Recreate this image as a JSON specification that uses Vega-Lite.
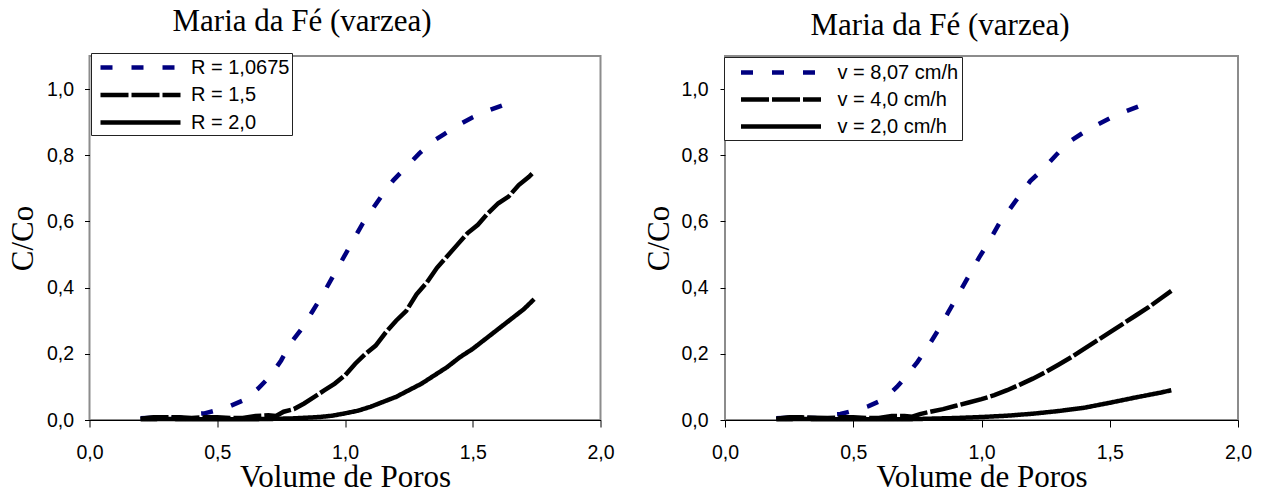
{
  "$schema": "https://vega.github.io/schema/vega-lite/v6.json",
  "padding": {"left": 5.5, "top": 5, "right": 5, "bottom": 0},
  "bounds": "flush",
  "spacing": 124.5,
  "config": {
    "view": {"stroke": "#8c8c8c", "strokeWidth": 2},
    "font": "Liberation Sans",
    "axis": {
      "grid": false,
      "labelFont": "Liberation Sans",
      "labelFontSize": 19.5,
      "labelColor": "#000",
      "labelFlush": false,
      "labelOverlap": false,
      "titleFont": "Liberation Serif",
      "titleFontSize": 31,
      "titleFontWeight": "normal",
      "titleColor": "#000",
      "tickColor": "#000",
      "tickWidth": 1
    }
  },
  "datasets": {
    "left": [
      {"s": "R = 1,0675", "v": 0.20, "c": 0.005}, {"s": "R = 1,0675", "v": 0.25, "c": 0.007}, {"s": "R = 1,0675", "v": 0.30, "c": 0.006}, {"s": "R = 1,0675", "v": 0.35, "c": 0.008}, {"s": "R = 1,0675", "v": 0.38, "c": 0.004}, {"s": "R = 1,0675", "v": 0.41, "c": 0.018}, {"s": "R = 1,0675", "v": 0.45, "c": 0.02}, {"s": "R = 1,0675", "v": 0.50, "c": 0.03}, {"s": "R = 1,0675", "v": 0.55, "c": 0.042}, {"s": "R = 1,0675", "v": 0.61, "c": 0.062}, {"s": "R = 1,0675", "v": 0.66, "c": 0.095}, {"s": "R = 1,0675", "v": 0.71, "c": 0.135}, {"s": "R = 1,0675", "v": 0.75, "c": 0.18}, {"s": "R = 1,0675", "v": 0.79, "c": 0.235}, {"s": "R = 1,0675", "v": 0.83, "c": 0.275}, {"s": "R = 1,0675", "v": 0.87, "c": 0.325}, {"s": "R = 1,0675", "v": 0.91, "c": 0.375}, {"s": "R = 1,0675", "v": 0.95, "c": 0.43}, {"s": "R = 1,0675", "v": 0.99, "c": 0.485}, {"s": "R = 1,0675", "v": 1.03, "c": 0.54}, {"s": "R = 1,0675", "v": 1.07, "c": 0.595}, {"s": "R = 1,0675", "v": 1.11, "c": 0.64}, {"s": "R = 1,0675", "v": 1.15, "c": 0.685}, {"s": "R = 1,0675", "v": 1.19, "c": 0.725}, {"s": "R = 1,0675", "v": 1.24, "c": 0.765}, {"s": "R = 1,0675", "v": 1.29, "c": 0.805}, {"s": "R = 1,0675", "v": 1.34, "c": 0.84}, {"s": "R = 1,0675", "v": 1.39, "c": 0.865}, {"s": "R = 1,0675", "v": 1.44, "c": 0.89}, {"s": "R = 1,0675", "v": 1.50, "c": 0.915}, {"s": "R = 1,0675", "v": 1.56, "c": 0.935}, {"s": "R = 1,0675", "v": 1.62, "c": 0.952}, {"s": "R = 1,0675", "v": 1.67, "c": 0.968},
      {"s": "R = 1,5", "v": 0.20, "c": 0.004}, {"s": "R = 1,5", "v": 0.25, "c": 0.008}, {"s": "R = 1,5", "v": 0.30, "c": 0.008}, {"s": "R = 1,5", "v": 0.35, "c": 0.008}, {"s": "R = 1,5", "v": 0.40, "c": 0.006}, {"s": "R = 1,5", "v": 0.45, "c": 0.008}, {"s": "R = 1,5", "v": 0.50, "c": 0.008}, {"s": "R = 1,5", "v": 0.55, "c": 0.006}, {"s": "R = 1,5", "v": 0.60, "c": 0.006}, {"s": "R = 1,5", "v": 0.65, "c": 0.012}, {"s": "R = 1,5", "v": 0.70, "c": 0.014}, {"s": "R = 1,5", "v": 0.73, "c": 0.012}, {"s": "R = 1,5", "v": 0.76, "c": 0.025}, {"s": "R = 1,5", "v": 0.80, "c": 0.033}, {"s": "R = 1,5", "v": 0.84, "c": 0.05}, {"s": "R = 1,5", "v": 0.88, "c": 0.07}, {"s": "R = 1,5", "v": 0.92, "c": 0.09}, {"s": "R = 1,5", "v": 0.96, "c": 0.11}, {"s": "R = 1,5", "v": 1.00, "c": 0.135}, {"s": "R = 1,5", "v": 1.04, "c": 0.17}, {"s": "R = 1,5", "v": 1.08, "c": 0.2}, {"s": "R = 1,5", "v": 1.12, "c": 0.225}, {"s": "R = 1,5", "v": 1.16, "c": 0.265}, {"s": "R = 1,5", "v": 1.20, "c": 0.3}, {"s": "R = 1,5", "v": 1.24, "c": 0.33}, {"s": "R = 1,5", "v": 1.28, "c": 0.38}, {"s": "R = 1,5", "v": 1.32, "c": 0.415}, {"s": "R = 1,5", "v": 1.36, "c": 0.46}, {"s": "R = 1,5", "v": 1.40, "c": 0.495}, {"s": "R = 1,5", "v": 1.44, "c": 0.53}, {"s": "R = 1,5", "v": 1.48, "c": 0.565}, {"s": "R = 1,5", "v": 1.52, "c": 0.59}, {"s": "R = 1,5", "v": 1.56, "c": 0.625}, {"s": "R = 1,5", "v": 1.60, "c": 0.655}, {"s": "R = 1,5", "v": 1.64, "c": 0.675}, {"s": "R = 1,5", "v": 1.68, "c": 0.71}, {"s": "R = 1,5", "v": 1.72, "c": 0.735}, {"s": "R = 1,5", "v": 1.74, "c": 0.75},
      {"s": "R = 2,0", "v": 0.20, "c": 0.002}, {"s": "R = 2,0", "v": 0.30, "c": 0.003}, {"s": "R = 2,0", "v": 0.40, "c": 0.002}, {"s": "R = 2,0", "v": 0.50, "c": 0.002}, {"s": "R = 2,0", "v": 0.60, "c": 0.002}, {"s": "R = 2,0", "v": 0.70, "c": 0.003}, {"s": "R = 2,0", "v": 0.80, "c": 0.005}, {"s": "R = 2,0", "v": 0.90, "c": 0.009}, {"s": "R = 2,0", "v": 0.95, "c": 0.013}, {"s": "R = 2,0", "v": 1.00, "c": 0.02}, {"s": "R = 2,0", "v": 1.05, "c": 0.028}, {"s": "R = 2,0", "v": 1.10, "c": 0.04}, {"s": "R = 2,0", "v": 1.15, "c": 0.055}, {"s": "R = 2,0", "v": 1.20, "c": 0.07}, {"s": "R = 2,0", "v": 1.25, "c": 0.09}, {"s": "R = 2,0", "v": 1.30, "c": 0.11}, {"s": "R = 2,0", "v": 1.35, "c": 0.135}, {"s": "R = 2,0", "v": 1.40, "c": 0.16}, {"s": "R = 2,0", "v": 1.45, "c": 0.19}, {"s": "R = 2,0", "v": 1.50, "c": 0.215}, {"s": "R = 2,0", "v": 1.55, "c": 0.245}, {"s": "R = 2,0", "v": 1.60, "c": 0.275}, {"s": "R = 2,0", "v": 1.65, "c": 0.305}, {"s": "R = 2,0", "v": 1.70, "c": 0.335}, {"s": "R = 2,0", "v": 1.74, "c": 0.365}
    ],
    "right": [
      {"s": "v = 8,07 cm/h", "v": 0.20, "c": 0.005}, {"s": "v = 8,07 cm/h", "v": 0.25, "c": 0.007}, {"s": "v = 8,07 cm/h", "v": 0.30, "c": 0.006}, {"s": "v = 8,07 cm/h", "v": 0.35, "c": 0.006}, {"s": "v = 8,07 cm/h", "v": 0.38, "c": 0.003}, {"s": "v = 8,07 cm/h", "v": 0.41, "c": 0.016}, {"s": "v = 8,07 cm/h", "v": 0.45, "c": 0.018}, {"s": "v = 8,07 cm/h", "v": 0.51, "c": 0.03}, {"s": "v = 8,07 cm/h", "v": 0.56, "c": 0.042}, {"s": "v = 8,07 cm/h", "v": 0.62, "c": 0.063}, {"s": "v = 8,07 cm/h", "v": 0.67, "c": 0.1}, {"s": "v = 8,07 cm/h", "v": 0.71, "c": 0.135}, {"s": "v = 8,07 cm/h", "v": 0.75, "c": 0.175}, {"s": "v = 8,07 cm/h", "v": 0.79, "c": 0.22}, {"s": "v = 8,07 cm/h", "v": 0.83, "c": 0.27}, {"s": "v = 8,07 cm/h", "v": 0.87, "c": 0.325}, {"s": "v = 8,07 cm/h", "v": 0.91, "c": 0.38}, {"s": "v = 8,07 cm/h", "v": 0.95, "c": 0.435}, {"s": "v = 8,07 cm/h", "v": 0.99, "c": 0.49}, {"s": "v = 8,07 cm/h", "v": 1.03, "c": 0.54}, {"s": "v = 8,07 cm/h", "v": 1.07, "c": 0.595}, {"s": "v = 8,07 cm/h", "v": 1.11, "c": 0.637}, {"s": "v = 8,07 cm/h", "v": 1.15, "c": 0.68}, {"s": "v = 8,07 cm/h", "v": 1.19, "c": 0.722}, {"s": "v = 8,07 cm/h", "v": 1.24, "c": 0.758}, {"s": "v = 8,07 cm/h", "v": 1.29, "c": 0.8}, {"s": "v = 8,07 cm/h", "v": 1.34, "c": 0.84}, {"s": "v = 8,07 cm/h", "v": 1.39, "c": 0.865}, {"s": "v = 8,07 cm/h", "v": 1.44, "c": 0.888}, {"s": "v = 8,07 cm/h", "v": 1.50, "c": 0.912}, {"s": "v = 8,07 cm/h", "v": 1.56, "c": 0.932}, {"s": "v = 8,07 cm/h", "v": 1.62, "c": 0.95}, {"s": "v = 8,07 cm/h", "v": 1.67, "c": 0.962},
      {"s": "v = 4,0 cm/h", "v": 0.20, "c": 0.004}, {"s": "v = 4,0 cm/h", "v": 0.25, "c": 0.008}, {"s": "v = 4,0 cm/h", "v": 0.30, "c": 0.008}, {"s": "v = 4,0 cm/h", "v": 0.35, "c": 0.007}, {"s": "v = 4,0 cm/h", "v": 0.40, "c": 0.006}, {"s": "v = 4,0 cm/h", "v": 0.45, "c": 0.008}, {"s": "v = 4,0 cm/h", "v": 0.50, "c": 0.008}, {"s": "v = 4,0 cm/h", "v": 0.55, "c": 0.006}, {"s": "v = 4,0 cm/h", "v": 0.60, "c": 0.006}, {"s": "v = 4,0 cm/h", "v": 0.65, "c": 0.012}, {"s": "v = 4,0 cm/h", "v": 0.70, "c": 0.012}, {"s": "v = 4,0 cm/h", "v": 0.73, "c": 0.01}, {"s": "v = 4,0 cm/h", "v": 0.76, "c": 0.018}, {"s": "v = 4,0 cm/h", "v": 0.80, "c": 0.025}, {"s": "v = 4,0 cm/h", "v": 0.85, "c": 0.033}, {"s": "v = 4,0 cm/h", "v": 0.90, "c": 0.043}, {"s": "v = 4,0 cm/h", "v": 0.95, "c": 0.053}, {"s": "v = 4,0 cm/h", "v": 1.00, "c": 0.063}, {"s": "v = 4,0 cm/h", "v": 1.05, "c": 0.075}, {"s": "v = 4,0 cm/h", "v": 1.10, "c": 0.09}, {"s": "v = 4,0 cm/h", "v": 1.15, "c": 0.107}, {"s": "v = 4,0 cm/h", "v": 1.20, "c": 0.125}, {"s": "v = 4,0 cm/h", "v": 1.25, "c": 0.145}, {"s": "v = 4,0 cm/h", "v": 1.30, "c": 0.167}, {"s": "v = 4,0 cm/h", "v": 1.35, "c": 0.19}, {"s": "v = 4,0 cm/h", "v": 1.40, "c": 0.215}, {"s": "v = 4,0 cm/h", "v": 1.45, "c": 0.24}, {"s": "v = 4,0 cm/h", "v": 1.50, "c": 0.265}, {"s": "v = 4,0 cm/h", "v": 1.55, "c": 0.29}, {"s": "v = 4,0 cm/h", "v": 1.60, "c": 0.315}, {"s": "v = 4,0 cm/h", "v": 1.65, "c": 0.34}, {"s": "v = 4,0 cm/h", "v": 1.70, "c": 0.368}, {"s": "v = 4,0 cm/h", "v": 1.74, "c": 0.39},
      {"s": "v = 2,0 cm/h", "v": 0.20, "c": 0.002}, {"s": "v = 2,0 cm/h", "v": 0.30, "c": 0.003}, {"s": "v = 2,0 cm/h", "v": 0.40, "c": 0.002}, {"s": "v = 2,0 cm/h", "v": 0.50, "c": 0.002}, {"s": "v = 2,0 cm/h", "v": 0.60, "c": 0.002}, {"s": "v = 2,0 cm/h", "v": 0.70, "c": 0.002}, {"s": "v = 2,0 cm/h", "v": 0.80, "c": 0.004}, {"s": "v = 2,0 cm/h", "v": 0.90, "c": 0.006}, {"s": "v = 2,0 cm/h", "v": 1.00, "c": 0.009}, {"s": "v = 2,0 cm/h", "v": 1.10, "c": 0.013}, {"s": "v = 2,0 cm/h", "v": 1.20, "c": 0.019}, {"s": "v = 2,0 cm/h", "v": 1.30, "c": 0.027}, {"s": "v = 2,0 cm/h", "v": 1.40, "c": 0.037}, {"s": "v = 2,0 cm/h", "v": 1.50, "c": 0.052}, {"s": "v = 2,0 cm/h", "v": 1.60, "c": 0.068}, {"s": "v = 2,0 cm/h", "v": 1.70, "c": 0.083}, {"s": "v = 2,0 cm/h", "v": 1.74, "c": 0.09}
    ]
  },
  "hconcat": [
    {
      "width": 511,
      "height": 364,
      "title": {"text": "Maria da Fé (varzea)", "frame": "group", "anchor": "middle", "dx": -43, "baseline": "alphabetic", "offset": -9.5, "font": "Liberation Serif", "fontSize": 31, "fontWeight": "normal", "color": "#000"},
      "data": {"name": "left"},
      "mark": {"type": "line", "strokeWidth": 4.5, "strokeCap": "butt"},
      "encoding": {
        "x": {"field": "v", "type": "quantitative", "scale": {"domain": [0, 2], "nice": false},
          "axis": {"title": "Volume de Poros", "values": [0, 0.5, 1, 1.5, 2], "labelExpr": "replace(format(datum.value, '.1f'), '.', ',')", "domainColor": "#000", "domainWidth": 1, "tickSize": 7, "labelPadding": 16, "titlePadding": 1, "encode": {"ticks": {"update": {"y": {"value": -7}}}}}},
        "y": {"field": "c", "type": "quantitative", "scale": {"domain": [0, 1.1], "nice": false},
          "axis": {"title": "C/Co", "values": [0, 0.2, 0.4, 0.6, 0.8, 1], "labelExpr": "replace(format(datum.value, '.1f'), '.', ',')", "domain": false, "tickSize": 5, "labelPadding": 11, "titlePadding": 7, "encode": {"ticks": {"update": {"x": {"value": 7}}}}}},
        "color": {"field": "s", "type": "nominal", "title": null,
          "scale": {"domain": ["R = 1,0675", "R = 1,5", "R = 2,0"], "range": ["#000080", "#000000", "#000000"]},
          "legend": {"orient": "none", "legendX": 1.5, "legendY": -3, "title": null, "padding": 2, "rowPadding": 4.5, "symbolOffset": 5, "labelOffset": 68, "symbolType": "M-1,0H7", "symbolSize": 400, "symbolStrokeWidth": 4.5, "strokeColor": "#222", "fillColor": "#ffffff", "labelFontSize": 20, "labelFont": "Liberation Sans", "labelColor": "#000", "labelLimit": 300,
            "encode": {"symbols": {"update": {"strokeDash": {"signal": "datum.value === 'R = 1,5' ? [35, 21] : datum.value === 'R = 2,0' ? [1, 0] : [10, 21]"}}}}}},
        "strokeDash": {"field": "s", "type": "nominal", "legend": null,
          "scale": {"domain": ["R = 1,0675", "R = 1,5", "R = 2,0"], "range": [[12, 19], [28, 3], [1, 0]]}}
      }
    },
    {
      "width": 513,
      "height": 364,
      "title": {"text": "Maria da Fé (varzea)", "frame": "group", "anchor": "middle", "dx": -41.5, "baseline": "alphabetic", "offset": -9.5, "font": "Liberation Serif", "fontSize": 31, "fontWeight": "normal", "color": "#000"},
      "data": {"name": "right"},
      "mark": {"type": "line", "strokeWidth": 4.5, "strokeCap": "butt"},
      "encoding": {
        "x": {"field": "v", "type": "quantitative", "scale": {"domain": [0, 2], "nice": false},
          "axis": {"title": "Volume de Poros", "values": [0, 0.5, 1, 1.5, 2], "labelExpr": "replace(format(datum.value, '.1f'), '.', ',')", "domainColor": "#000", "domainWidth": 1, "tickSize": 7, "labelPadding": 16, "titlePadding": 1, "encode": {"ticks": {"update": {"y": {"value": -7}}}}}},
        "y": {"field": "c", "type": "quantitative", "scale": {"domain": [0, 1.1], "nice": false},
          "axis": {"title": "C/Co", "values": [0, 0.2, 0.4, 0.6, 0.8, 1], "labelExpr": "replace(format(datum.value, '.1f'), '.', ',')", "domain": false, "tickSize": 5, "labelPadding": 12, "titlePadding": 5, "encode": {"ticks": {"update": {"x": {"value": 7}}}}}},
        "color": {"field": "s", "type": "nominal", "title": null,
          "scale": {"domain": ["v = 8,07 cm/h", "v = 4,0 cm/h", "v = 2,0 cm/h"], "range": ["#000080", "#000000", "#000000"]},
          "legend": {"orient": "none", "legendX": -1, "legendY": 1, "title": null, "padding": 3, "rowPadding": 4, "symbolOffset": 11.5, "labelOffset": 74, "symbolType": "M-1,0H7", "symbolSize": 400, "symbolStrokeWidth": 4.5, "strokeColor": "#222", "fillColor": "#ffffff", "labelFontSize": 20, "labelFont": "Liberation Sans", "labelColor": "#000", "labelLimit": 300,
            "encode": {"symbols": {"update": {"strokeDash": {"signal": "datum.value === 'v = 4,0 cm/h' ? [35, 21] : datum.value === 'v = 2,0 cm/h' ? [1, 0] : [10, 21]"}}}}}},
        "strokeDash": {"field": "s", "type": "nominal", "legend": null,
          "scale": {"domain": ["v = 8,07 cm/h", "v = 4,0 cm/h", "v = 2,0 cm/h"], "range": [[12, 19], [28, 3], [1, 0]]}}
      }
    }
  ],
  "resolve": {"scale": {"color": "independent", "strokeDash": "independent"}}
}
